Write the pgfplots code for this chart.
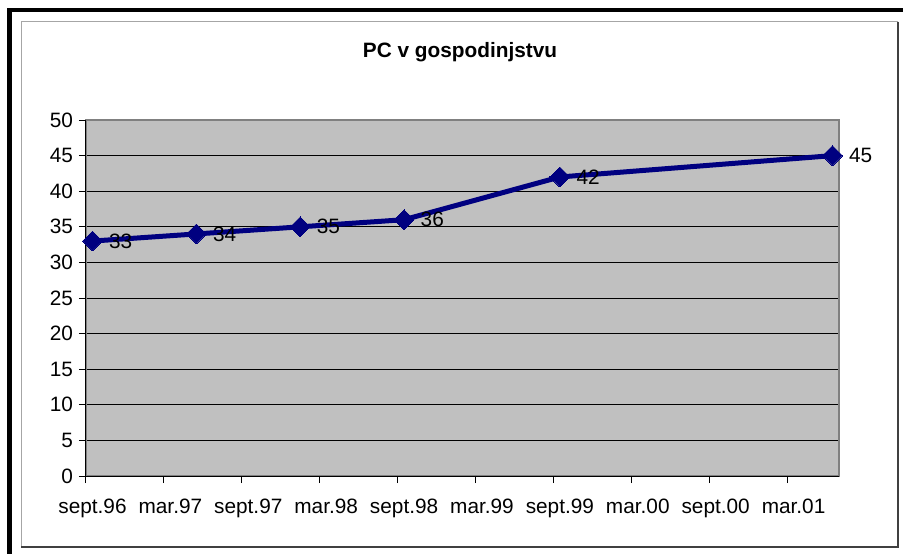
\documentclass[border=0pt]{standalone}
\usepackage{pgfplots}
\pgfplotsset{compat=1.18}
\usepackage{fontspec}
\setmainfont{Liberation Sans}
\definecolor{plotbg}{HTML}{C0C0C0}
\definecolor{navyline}{HTML}{000080}
\definecolor{framedark}{HTML}{404040}
\begin{document}
\begin{tikzpicture}
\useasboundingbox (-43pt,-39pt) rectangle (408.5pt,238pt);
% outer frame
\fill[black] (-39.5pt,-39pt) rectangle (-37pt,234pt);
\fill[black] (-39.5pt,232pt) rectangle (408.5pt,234pt);
\draw[gray!70, line width=0.5pt] (-32.25pt,-35.5pt) -- (-32.25pt,227.25pt) -- (406pt,227.25pt);
\draw[framedark, line width=1pt] (406pt,227.25pt) -- (406pt,-35.5pt) -- (-32.25pt,-35.5pt);
\node[font=\fontsize{10.4}{12}\selectfont\bfseries] at (187pt,212pt) {PC v gospodinjstvu};
\begin{axis}[
  at={(0pt,0pt)}, anchor=south west,
  scale only axis, width=376.5pt, height=178pt,
  xmin=0, xmax=58, ymin=0, ymax=50,
  axis background/.style={fill=plotbg},
  axis line style={draw=gray, line width=1pt},
  xtick={0,6,...,54},
  xticklabels={sept.96,mar.97,sept.97,mar.98,sept.98,mar.99,sept.99,mar.00,sept.00,mar.01},
  xticklabel style={xshift=3.25pt, yshift=-4.5pt},
  ytick={0,5,...,50},
  yticklabel style={xshift=0.5pt},
  xtick pos=bottom, ytick pos=left,
  ymajorgrids, grid style={black, line width=0.5pt},
  tick align=outside, major tick length=3.5pt,
  tick style={black, line width=0.5pt},
  ticklabel style={font=\fontsize{10.4}{12}\selectfont},
  /pgf/number format/assume math mode=true,
  clip=false,
  nodes near coords,
  every node near coord/.append style={anchor=west, xshift=5pt, yshift=0pt, font=\fontsize{10.4}{12}\selectfont, text=black},
]
\draw[gray, line width=1pt] (axis cs:0,50) -- (axis cs:58,50) -- (axis cs:58,0);
\draw[black, line width=0.5pt] (axis cs:0,50) -- (axis cs:0,0) -- (axis cs:58,0);
\addplot[navyline, line width=2.5pt, mark=square*, mark size=3.5pt, mark options={rotate=45, fill=navyline, draw=navyline, line width=0pt}]
  coordinates {(0.5,33) (8.5,34) (16.5,35) (24.5,36) (36.5,42) (57.5,45)};
\end{axis}
\end{tikzpicture}
\end{document}
